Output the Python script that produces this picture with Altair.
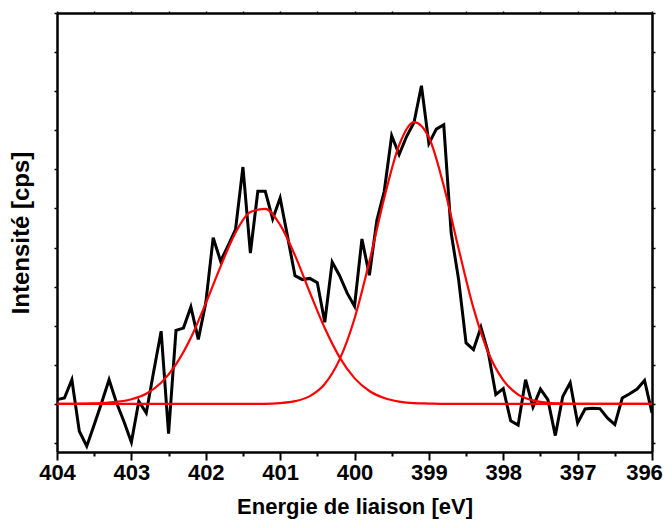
import altair as alt
import pandas as pd

# Measured spectrum (binding energy in eV, intensity in arbitrary cps units)
energy = [round(404 - 0.1 * i, 1) for i in range(81)]
intensity = [11, 15, 62, -70, -108, -53, 3, 62, 3, -45,
             -98, 7, -23, 83, 186, -76, 188, 194, 248, 165,
             258, 425, 365, 405, 446, 606, 386, 544, 544, 473,
             527, 428, 328, 318, 321, 310, 209, 363, 328, 284,
             250, 422, 329, 469, 544, 686, 638, 684, 720, 814,
             666, 703, 714, 437, 318, 156, 139, 196, 130, 24,
             39, -43, -54, 62, -8, 38, 11, -81, 19, 54,
             -49, -13, -11, -12, -36, -53, 15, 26, 38, 60, -23]

# Fitted components
fit_energy = [round(404 - 0.2 * i, 1) for i in range(41)]
fit1 = [0, 0, 1, 2, 5, 12, 26, 54, 101, 169,
        257, 352, 438, 491, 499, 458, 380, 285, 194, 119,
        66, 33, 15, 6, 2, 1, 0, 0, 0, 0,
        0, 0, 0, 0, 0, 0, 0, 0, 0, 0, 0]
fit2 = [0, 0, 0, 0, 0, 0, 0, 0, 0, 0,
        0, 0, 0, 0, 0, 2, 7, 20, 51, 114,
        218, 364, 527, 662, 721, 682, 558, 397, 245, 131,
        61, 24, 9, 3, 1, 0, 0, 0, 0, 0, 0]

x_ticks = [396 + 0.5 * k for k in range(17)]
y_ticks = list(range(-100, 1001, 100))

df = pd.DataFrame({"E": energy, "I": intensity})
dfit = pd.DataFrame({"E": fit_energy, "f1": fit1, "f2": fit2})

FONT = "Liberation Sans"
xscale = alt.Scale(domain=[396, 404], reverse=True, nice=False, zero=False)
yscale = alt.Scale(domain=[-123, 1000], nice=False, zero=False)

x_bottom = alt.Axis(
    orient="bottom", values=x_ticks,
    labelExpr="datum.value % 1 === 0 ? format(datum.value, 'd') : ''",
    tickSize={"condition": {"test": "datum.value % 1 === 0", "value": 8}, "value": 4},
    labelOffset={"condition": {"test": "datum.value === 396", "value": -8}, "value": 0},
    tickWidth=2, domainWidth=2.5, domainColor="black", tickColor="black",
    labelFont=FONT, labelFontWeight="bold", labelFontSize=22, labelColor="black",
    labelPadding=2, labelOverlap=False, labelFlush=False, labelBound=False,
    title="Energie de liaison [eV]", titleFont=FONT, titleFontWeight="bold",
    titleFontSize=22, titleColor="black", titlePadding=13, grid=False,
)
y_left = alt.Axis(
    orient="left", values=y_ticks, labels=False, tickSize=3, tickWidth=1.5,
    domainWidth=2.5, domainColor="black", tickColor="black",
    title="Intensité [cps]", titleFont=FONT, titleFontWeight="bold",
    titleFontSize=24, titleColor="black", titlePadding=20, grid=False,
)
x_top = alt.Axis(
    orient="top", values=x_ticks, labels=False, tickSize=2, tickWidth=1.5,
    domainWidth=2.5, domainColor="black", tickColor="black", title=None, grid=False,
)
y_right = alt.Axis(
    orient="right", values=y_ticks, labels=False, tickSize=3, tickWidth=1.5,
    domainWidth=2.5, domainColor="black", tickColor="black", title=None, grid=False,
)

spectrum = alt.Chart(df).mark_line(color="black", strokeWidth=3).encode(
    x=alt.X("E:Q", scale=xscale, axis=x_bottom),
    y=alt.Y("I:Q", scale=yscale, axis=y_left),
)
comp1 = alt.Chart(dfit).mark_line(color="#ff0000", strokeWidth=2.2, interpolate="monotone").encode(
    x=alt.X("E:Q", scale=xscale, axis=x_top),
    y=alt.Y("f1:Q", scale=yscale, axis=y_right),
)
comp2 = alt.Chart(dfit).mark_line(color="#ff0000", strokeWidth=2.2, interpolate="monotone").encode(
    x=alt.X("E:Q", scale=xscale, axis=None),
    y=alt.Y("f2:Q", scale=yscale, axis=None),
)

chart = alt.layer(spectrum, comp1, comp2).resolve_axis(
    x="independent", y="independent"
).properties(
    width=595, height=439,
    padding={"left": 49, "top": 5, "right": 12, "bottom": 68},
    autosize=alt.AutoSizeParams(type="none"),
    background="white",
).configure_view(stroke=None)

chart.save("out.html", embed_options={"renderer": "svg", "actions": False})
